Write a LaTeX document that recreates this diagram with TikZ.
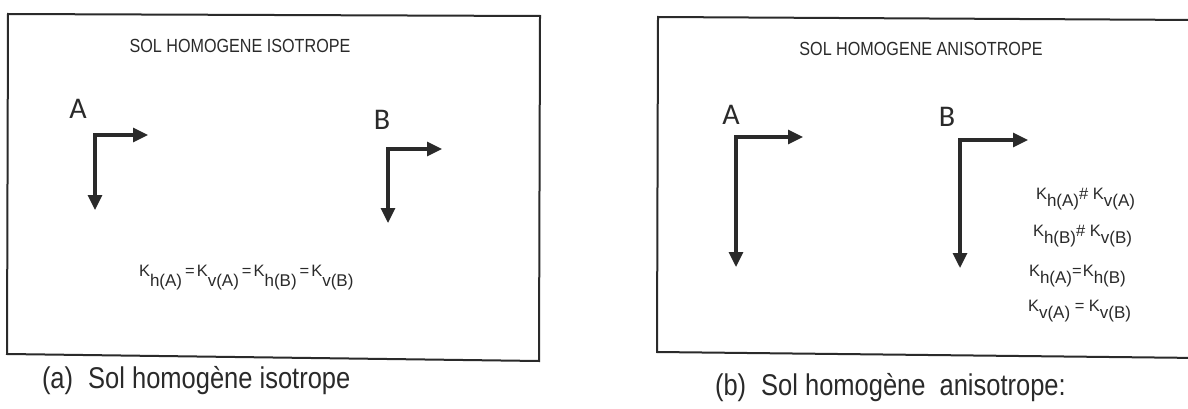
\documentclass[tikz,border=0pt]{standalone}
\usepackage{fontspec}
\setmainfont{Liberation Sans}
\newfontfamily\narrowfont[FakeStretch=0.85]{Liberation Sans}
\newfontfamily\labfont{Carlito}
\usetikzlibrary{arrows.meta}
\definecolor{ink}{HTML}{2A2A2A}
\newcommand{\Kx}[2][10pt]{K\raisebox{-#1}{\fontsize{17}{17}\selectfont #2}}
\begin{document}
\begin{tikzpicture}[x=1pt,y=-1pt,
  every node/.style={inner sep=0pt, outer sep=0pt, text=ink},
  boxline/.style={draw=ink, line width=2pt, line join=miter},
  axis/.style={draw=ink, line width=3.2pt, line join=miter,
    {Triangle[length=15pt,width=14pt]}-{Triangle[length=15pt,width=14pt]}},
  titletxt/.style={font=\narrowfont\fontsize{19}{20}\selectfont, anchor=base},
  labtxt/.style={font=\labfont\fontsize{30}{32}\selectfont, anchor=center},
  captxt/.style={font=\narrowfont\fontsize{30}{32}\selectfont, anchor=base west},
  formula/.style={font=\fontsize{16.5}{18}\selectfont, anchor=base west}]

\useasboundingbox (0,0) rectangle (1188,409);
\fill[white] (0,0) rectangle (1188,409);
\clip (0,0) rectangle (1188,409);

% frames
\draw[boxline] (8,14) -- (540,16) -- (539,361) -- (7,354) -- cycle;
\draw[boxline] (1200,20) -- (658,17) -- (657,352) -- (1200,358);

% titles
\node[titletxt] (tL) at (240,53) {SOL HOMOGENE ISOTROPE};
\node[titletxt] (tR) at (921,56) {SOL HOMOGENE ANISOTROPE};

% left panel
\node[labtxt] (lA) at (78,109) {A};
\node[labtxt] (lB) at (382,120) {B};
\coordinate (cA1) at (95,135);
\coordinate (hA1) at (148,135);
\coordinate (vA1) at (95,210);
\coordinate (cB1) at (388,149);
\coordinate (hB1) at (442,149);
\coordinate (vB1) at (388,223);
\draw[axis] (hA1) -- (cA1) -- (vA1);
\draw[axis] (hB1) -- (cB1) -- (vB1);
\node[formula] (eqL) at (139,276)
  {\Kx[10pt]{h(A)}\hspace{3pt}=\hspace{2pt}\Kx[10pt]{v(A)}\hspace{3pt}=\hspace{2pt}\Kx[10pt]{h(B)}\hspace{3pt}=\hspace{2pt}\Kx[10pt]{v(B)}};

% right panel
\node[labtxt] (rA) at (731,115) {A};
\node[labtxt] (rB) at (947,117) {B};
\coordinate (cA2) at (736,137);
\coordinate (hA2) at (803,137);
\coordinate (vA2) at (736,267);
\coordinate (cB2) at (960,140);
\coordinate (hB2) at (1028,140);
\coordinate (vB2) at (960,268);
\draw[axis] (hA2) -- (cA2) -- (vA2);
\draw[axis] (hB2) -- (cB2) -- (vB2);
\node[formula] (r1) at (1036,199) {\Kx[7pt]{h(A)}\# \Kx[7pt]{v(A)}};
\node[formula] (r2) at (1033,236) {\Kx[7pt]{h(B)}\# \Kx[7pt]{v(B)}};
\node[formula] (r3) at (1029,276) {\Kx[7pt]{h(A)}=\hspace{1pt}\Kx[7pt]{h(B)}};
\node[formula] (r4) at (1028,311) {\Kx[7pt]{v(A)} = \Kx[7pt]{v(B)}};

% captions
\node[captxt] (cL) at (42,388) {(a)\hspace{15pt}Sol homogène isotrope};
\node[captxt] (cR) at (715,395) {(b)\hspace{15pt}Sol homogène\hspace{14pt}anisotrope:};
\end{tikzpicture}
\end{document}
